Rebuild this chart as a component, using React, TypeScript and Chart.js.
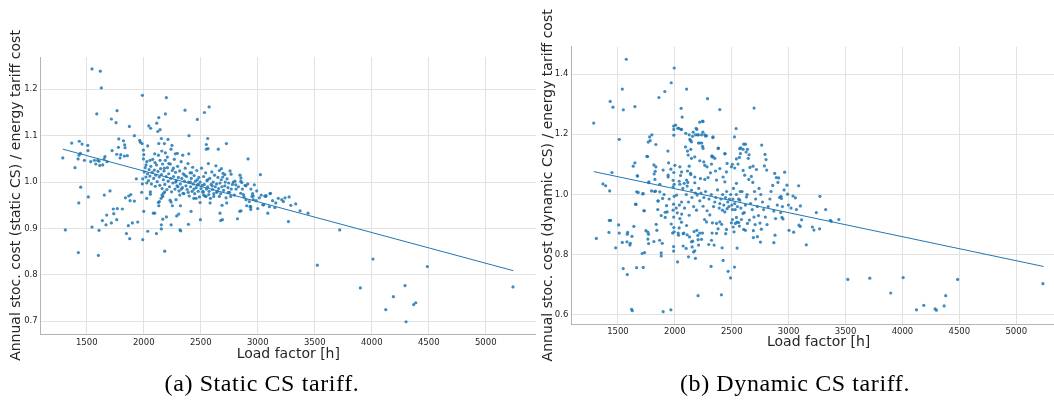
import React, { useEffect, useRef } from "react";
import { Chart, registerables } from "chart.js";

Chart.register(...registerables);

const loadFactorTicks = [1500, 2000, 2500, 3000, 3500, 4000, 4500, 5000];
const staticCostTicks = [0.7, 0.8, 0.9, 1.0, 1.1, 1.2];
const dynamicCostTicks = [0.6, 0.8, 1.0, 1.2, 1.4];

const xTitle = "Load factor [h]";
const staticYTitle = "Annual stoc. cost (static CS) / energy tariff cost";
const dynamicYTitle = "Annual stoc. cost (dynamic CS) / energy tariff cost";
const staticCaption = "(a) Static CS tariff.";
const dynamicCaption = "(b) Dynamic CS tariff.";

const staticFitLine: [number, number][] = [[1290, 1.071], [5242, 0.809]];
const dynamicFitLine: [number, number][] = [[1287, 1.076], [5240, 0.761]];

const staticPoints: [number, number][] = [
  [1290,1.052],[1312,0.897],[1368,1.084],[1397,1.031],[1424,1.050],[1426,0.848],[1430,0.955],[1432,1.058],[1435,1.088],[1444,1.062],
  [1447,0.989],[1459,1.082],[1479,1.047],[1509,1.079],[1511,1.068],[1514,0.968],[1535,1.044],[1546,1.244],[1546,0.903],[1567,1.047],
  [1579,1.039],[1588,1.147],[1596,1.047],[1602,0.842],[1608,0.896],[1608,1.045],[1614,1.036],[1619,1.239],[1628,1.203],[1637,0.917],
  [1640,1.037],[1652,1.050],[1654,0.972],[1660,1.055],[1669,0.908],[1675,0.929],[1678,1.044],[1704,0.981],[1716,0.912],[1716,1.136],
  [1722,1.068],[1733,0.942],[1737,0.932],[1757,1.128],[1763,1.060],[1763,0.919],[1766,1.154],[1768,0.943],[1778,1.075],[1781,1.093],
  [1792,1.052],[1798,1.059],[1812,0.942],[1822,1.089],[1830,1.056],[1833,1.080],[1836,1.074],[1839,0.966],[1848,0.889],[1856,1.057],
  [1865,0.906],[1868,0.970],[1874,1.120],[1877,0.878],[1880,0.960],[1886,0.973],[1900,0.912],[1918,1.100],[1918,0.959],[1935,1.007],
  [1947,0.914],[1965,1.090],[1970,1.086],[1982,0.978],[1985,1.083],[1988,0.996],[1988,1.187],[1991,1.007],[1991,0.876],[1997,1.069],
  [1997,1.050],[2000,1.059],[2000,0.937],[2020,1.037],[2026,0.965],[2026,0.998],[2035,0.894],[2035,1.078],[2044,1.121],[2055,1.047],
  [2058,0.974],[2058,0.979],[2061,1.116],[2084,0.933],[2096,0.933],[2096,1.061],[2099,1.042],[2111,0.889],[2114,1.127],[2123,1.109],
  [2128,0.956],[2132,1.139],[2132,1.083],[2132,0.949],[2137,0.958],[2143,1.113],[2143,1.047],[2152,0.965],[2154,1.094],[2154,0.908],
  [2154,0.899],[2158,1.067],[2160,0.972],[2167,0.920],[2167,0.969],[2173,0.976],[2181,1.083],[2184,0.851],[2184,0.979],[2190,1.147],
  [2190,1.063],[2198,1.182],[2199,0.925],[2207,1.054],[2213,1.092],[2231,0.961],[2239,1.071],[2240,0.957],[2240,0.908],[2248,1.079],
  [2251,0.949],[2277,1.061],[2283,0.962],[2289,0.927],[2295,1.062],[2307,0.931],[2316,0.972],[2318,0.897],[2322,0.949],[2324,0.895],
  [2342,1.058],[2345,0.976],[2362,1.155],[2392,0.909],[2395,1.061],[2397,1.100],[2415,0.937],[2439,0.965],[2459,0.965],[2470,1.135],
  [2494,0.956],[2497,0.919],[2526,0.972],[2532,1.150],[2546,0.969],[2549,1.081],[2549,1.071],[2561,1.094],[2564,1.072],[2570,0.973],
  [2573,1.162],[2582,0.955],[2614,0.969],[2640,0.978],[2654,1.071],[2663,0.969],[2669,0.933],[2675,0.917],[2725,1.083],[2728,0.955],
  [2742,0.978],[2681,1.029],[2696,1.019],[2711,1.016],[2693,1.011],[2757,1.024],[2766,1.017],[2731,1.007],[2786,1.000],[2800,1.002],
  [2844,1.015],[2853,1.009],[2851,1.002],[2860,0.999],[2889,0.993],[2897,0.992],[2912,0.996],[2915,1.050],[2970,0.994],[2991,0.981],
  [2810,0.985],[2807,0.994],[2711,0.992],[2739,0.988],[2768,0.985],[2763,0.969],[2851,0.976],[2874,0.973],[2897,0.962],[2903,0.949],
  [2926,0.958],[2950,0.969],[2961,0.962],[3014,0.966],[3023,1.016],[3053,0.951],[3070,0.969],[3108,0.975],[3102,0.947],[3088,0.933],
  [3211,0.962],[3239,0.966],[3275,0.968],[3333,0.953],[3269,0.915],[3371,0.938],[3441,0.933],[2687,0.950],[2690,0.919],[2822,0.921],
  [2842,0.937],[2853,0.938],[2932,0.947],[3000,0.943],[3044,0.951],[2939,0.947],[2939,0.941],[2960,0.970],[3061,0.970],[3073,0.971],
  [3111,0.976],[3158,0.955],[3225,0.958],[3523,0.821],[3719,0.897],[3900,0.772],[4011,0.834],[4123,0.725],[4190,0.753],[4292,0.777],
  [4301,0.699],[4368,0.736],[4386,0.740],[4488,0.818],[5239,0.774],
  [2004,1.022],[2013,1.031],[2019,1.011],[2027,1.044],[2033,1.018],[2041,1.003],[2047,1.027],[2054,1.013],[2062,1.034],[2067,0.996],
  [2074,1.021],[2079,1.049],[2087,1.008],[2093,1.026],[2101,0.991],[2105,1.015],[2112,1.037],[2118,1.001],[2125,1.023],[2129,1.058],
  [2136,1.011],[2141,0.993],[2148,1.029],[2155,1.016],[2161,0.986],[2165,1.039],[2172,1.005],[2178,1.024],[2185,0.995],[2189,1.047],
  [2196,1.012],[2203,0.984],[2208,1.031],[2214,1.002],[2219,1.018],[2226,0.990],[2233,1.039],[2237,1.008],[2244,0.979],[2250,1.025],
  [2256,0.998],[2262,1.012],[2268,1.049],[2274,0.985],[2279,1.021],[2286,1.003],[2292,0.992],[2297,1.034],[2304,1.010],[2309,0.981],
  [2315,1.024],[2321,0.996],[2328,1.044],[2334,1.008],[2339,0.988],[2346,1.018],[2352,0.975],[2357,1.002],[2364,1.030],[2370,0.992],
  [2375,1.012],[2381,0.984],[2388,1.040],[2393,1.000],[2399,0.970],[2406,1.020],[2411,0.990],[2417,1.008],[2424,0.980],[2429,1.032],
  [2435,0.996],[2442,1.014],[2447,0.975],[2453,1.002],[2460,0.988],[2465,1.025],[2471,0.994],[2478,0.980],[2483,1.010],[2489,0.968],
  [2495,1.000],[2502,0.986],[2507,1.030],[2513,0.993],[2519,0.978],[2525,1.012],[2531,0.995],[2537,0.970],[2543,1.020],[2550,0.985],
  [2555,1.003],[2561,0.990],[2567,1.040],[2573,0.980],[2579,1.008],[2585,0.965],[2591,0.995],[2597,1.022],[2603,0.984],[2609,1.000],
  [2615,0.975],[2621,1.015],[2627,0.990],[2633,1.035],[2639,0.996],[2645,0.980],[2651,1.010],[2657,0.986],[2663,1.025],[2669,0.998],
  [2675,0.975],[2680,1.005],[2686,0.990],[2700,0.982],[2715,1.000],[2722,0.966],[2745,0.998],[2752,0.978],[2778,0.995],[2795,0.972],
  [2830,0.990],[2865,0.985],[2880,0.968],[2940,0.985],[2955,0.975],[2985,0.960],[3030,0.972],[3130,0.960],[3180,0.965],[3290,0.950],
  [3150,0.945],[2280,1.000],[2330,0.985],[2410,1.000],[2440,0.985],[2470,1.005],[2520,0.980],[2360,1.015],[2300,0.990],[2390,0.978],
  [2560,1.005],[2600,0.992],[2220,1.040],[2180,1.030],[2260,1.030],[2480,0.995],[2420,1.020]
];

const dynamicPoints: [number, number][] = [
  [1287,1.237],[1310,0.854],[1368,1.035],[1392,1.029],[1421,0.874],[1424,0.914],[1427,1.012],[1432,1.309],[1435,0.914],[1447,1.073],
  [1456,1.290],[1480,0.823],[1506,0.899],[1511,1.183],[1511,0.872],[1538,1.350],[1538,0.841],[1546,0.754],[1547,1.281],[1573,1.449],
  [1579,0.843],[1582,0.734],[1582,0.868],[1585,0.874],[1605,0.832],[1608,0.838],[1620,0.619],[1626,0.614],[1623,0.861],[1634,1.094],
  [1640,0.894],[1649,1.292],[1649,1.105],[1658,0.967],[1664,0.757],[1669,1.062],[1678,1.007],[1713,0.804],[1717,1.002],[1722,0.758],
  [1728,0.946],[1734,0.807],[1746,0.880],[1754,1.127],[1763,0.875],[1763,0.852],[1766,1.174],[1769,0.868],[1769,0.837],[1769,1.039],
  [1778,1.191],[1783,1.179],[1795,1.012],[1798,1.198],[1816,1.098],[1816,0.844],[1818,1.068],[1822,1.010],[1827,1.077],[1830,1.011],
  [1833,1.166],[1836,0.901],[1842,0.881],[1851,0.978],[1860,1.322],[1866,0.848],[1868,1.009],[1880,0.806],[1880,0.796],[1889,0.838],
  [1897,0.611],[1897,1.081],[1912,1.342],[1915,0.941],[1927,0.963],[1939,1.144],[1941,1.064],[1945,1.105],[1965,0.617],[1968,1.371],
  [1968,0.902],[1985,1.047],[1989,0.968],[1989,0.827],[1989,0.812],[1989,1.227],[1991,1.197],[1991,1.216],[1994,1.420],[1994,0.994],
  [1994,1.034],[1994,0.876],[2024,0.776],[2026,1.220],[2032,0.865],[2038,0.889],[2050,1.063],[2053,1.216],[2055,1.286],[2058,0.908],
  [2064,1.257],[2073,0.829],[2079,0.872],[2082,1.037],[2094,1.158],[2096,1.203],[2099,0.821],[2103,1.350],[2103,0.897],[2114,1.040],
  [2120,0.793],[2126,1.198],[2126,1.094],[2129,0.859],[2137,1.179],[2140,1.150],[2140,1.066],[2146,0.843],[2152,0.826],[2155,1.193],
  [2157,0.845],[2164,0.809],[2181,0.788],[2182,1.198],[2187,1.220],[2193,0.881],[2202,0.864],[2204,0.664],[2207,1.198],[2207,1.171],
  [2208,0.832],[2219,1.240],[2234,1.198],[2234,0.851],[2236,1.171],[2243,1.244],[2243,1.160],[2243,0.872],[2263,1.198],[2269,1.194],
  [2287,1.318],[2298,0.834],[2318,0.761],[2322,0.848],[2325,1.128],[2327,1.125],[2336,1.191],[2345,0.832],[2366,0.871],[2383,1.154],
  [2395,1.282],[2409,0.667],[2415,0.823],[2424,0.781],[2441,1.135],[2468,0.745],[2489,0.723],[2524,0.759],[2538,1.219],[2547,0.822],
  [2570,1.152],[2579,1.155],[2605,1.167],[2626,1.141],[2638,1.150],[2652,1.132],[2687,1.094],[2696,1.287],[2717,1.083],[2763,1.164],
  [2787,1.095],[2792,1.133],[2801,1.116],[2807,1.081],[2877,1.070],[2892,1.056],[2906,1.040],[2912,1.055],[2965,1.074],
  [2985,1.031],[3088,1.029],[2991,1.001],[2932,0.994],[2936,0.987],[3038,0.995],[3059,0.989],[3275,0.994],[2998,0.965],[3021,0.955],
  [3103,0.962],[3068,0.950],[3243,0.940],[3325,0.950],[2941,0.924],[2950,0.919],[3114,0.916],[3091,0.898],[3102,0.894],[3003,0.881],
  [3044,0.875],[3208,0.892],[3222,0.882],[3272,0.886],[3155,0.833],[3366,0.914],[3441,0.917],[3374,0.911],
  [3520,0.718],[3713,0.722],[3897,0.673],[4006,0.724],[4123,0.617],[4187,0.632],[4287,0.620],[4298,0.616],[4366,0.630],[4380,0.664],
  [4485,0.718],[5234,0.704],
  [1991,0.890],[1980,0.872],[2029,0.872],[2073,0.870],[2108,0.866],[2169,0.877],[2175,0.813],[2204,0.850],[2219,0.872],[2327,0.872],
  [2366,0.904],[2380,0.886],[2412,0.901],[2447,0.870],[2453,0.884],[2506,0.917],[2512,0.892],[2520,0.876],[2532,0.904],[2547,0.908],
  [2567,0.895],[2605,0.884],[2620,0.881],[2585,0.917],[2638,0.904],
  [2044,1.034],[2108,1.028],[2146,1.014],[2196,0.998],[2219,0.979],[2248,0.961],[2283,0.946],[2307,0.932],[2351,0.975],[2395,0.970],
  [2418,0.948],[2439,0.942],[2459,0.953],[2506,0.950],[2526,0.970],[2570,0.981],[2599,0.937],[2629,0.992],[2015,0.998],[2059,0.975],
  [1985,0.948],[1932,0.942],[1892,0.987],[1854,0.979],[1722,1.003],[1664,1.009],[1655,0.968],[1731,0.946],[1915,0.924],[2021,0.939],
  [2044,0.920],[2126,0.931],[2190,0.948],[2261,0.917],[2278,0.909],[2330,0.906],[2395,0.909],[2497,0.906],[2541,0.924],[2561,0.907],
  [2006,1.230],[2035,1.220],[2059,1.216],[2161,1.207],[2193,1.216],[2199,1.198],[2248,1.242],[2278,1.195],[2333,1.189],[2246,1.207],
  [2132,1.183],[2146,1.175],[2219,1.171],[2248,1.153],[2111,1.144],[2175,1.125],[2117,1.131],[2146,1.120],[2219,1.112],[2254,1.108],
  [2263,1.097],[2283,1.092],[2322,1.101],[2336,1.125],[2380,1.153],[2351,1.120],[2439,1.136],[2395,1.086],[2459,1.103],[2506,1.100],
  [2526,1.088],[2541,1.118],[2567,1.123],[2555,1.101],[2576,1.136],[2599,1.150],[2620,1.167],[2524,1.191],[2497,1.092],[2453,1.075],
  [2424,1.058],[2357,1.078],[2313,1.072],[2292,1.056],[2263,1.050],[2225,1.053],[2175,1.058],[2138,1.070],[2111,1.078],[2059,1.075],
  [2044,1.092],[2000,1.097],[1991,1.073],[1941,1.058],[1965,1.084],[1833,1.092],[1760,1.126],[1673,1.061],[1772,1.042],[1825,1.050],
  [1868,1.034],[1985,1.025],[2038,1.044],[2103,1.048],[2175,1.039],[2366,1.048],[2439,1.042],[2541,1.037],[2614,1.064],
  [2645,1.120],[2660,1.090],[2672,1.060],[2685,1.040],[2700,1.010],[2710,0.985],[2725,0.960],[2735,0.930],[2748,0.905],[2760,0.885],
  [2665,0.970],[2680,0.950],[2695,0.925],[2705,0.900],[2740,1.020],[2755,1.000],[2770,0.975],[2780,0.950],[2795,0.925],[2810,0.900],
  [2820,0.960],[2835,0.985],[2845,1.010],[2860,1.030],[2870,0.945],[2885,0.920],[2900,0.965],[2920,0.990],[2930,0.940],[2945,0.960],
  [2960,1.015],[2650,1.050],[2635,1.000],[2620,0.965],[2610,0.940],[2590,1.010],[2600,1.080],[2655,0.915],[2690,0.880],[2725,0.860],
  [2752,0.842],[2870,0.840],[2880,0.865],[2690,0.857],
  [2210,1.020],[2230,1.005],[2255,0.990],[2270,1.010],[2300,0.985],[2320,1.000],[2340,0.960],[2360,0.990],[2375,1.015],[2390,0.955],
  [2405,0.985],[2420,1.000],[2430,0.965],[2445,0.990],[2455,1.010],[2465,0.975],[2475,0.960],[2480,0.985],[2490,1.000],[2500,0.965],
  [2510,0.985],[2515,1.020],[2530,0.950],[2540,1.000],[2550,0.960],[2560,0.985],[2575,1.010],[2580,0.955],[2150,0.990],[2165,0.960],
  [2180,1.005],[2120,0.975],[2100,1.000],[2085,0.955],[2070,1.020],[2060,0.935],[2040,0.965],[2012,0.955],[1990,0.925],[1950,0.985],
  [1905,1.000],[1880,0.930],[1850,0.950]
];

type Panel = {
  points: [number, number][];
  fit: [number, number][];
  yTicks: number[];
  yTitle: string;
  xMin: number; xMax: number; yMin: number; yMax: number;
  left: number; width: number; height: number;
  plotLeft: number; plotRight: number; plotTop: number; plotBottom: number;
  yTitlePad: number; xTitlePad: number; xTickPad: number;
};

const panels: Panel[] = [
  {
    points: staticPoints, fit: staticFitLine, yTicks: staticCostTicks, yTitle: staticYTitle,
    xMin: 1096, xMax: 5440, yMin: 0.6726, yMax: 1.2696,
    left: 0, width: 545, height: 370,
    plotLeft: 40.7, plotRight: 535.9, plotTop: 57, plotBottom: 334,
    yTitlePad: 8.1, xTitlePad: 7.5, xTickPad: 3.4,
  },
  {
    points: dynamicPoints, fit: dynamicFitLine, yTicks: dynamicCostTicks, yTitle: dynamicYTitle,
    xMin: 1090, xMax: 5437, yMin: 0.570, yMax: 1.4907,
    left: 530, width: 540, height: 370,
    plotLeft: 41.3, plotRight: 536.8, plotTop: 46.7, plotBottom: 324,
    yTitlePad: 9.7, xTitlePad: 19.1, xTickPad: 2.5,
  },
];

const TEXT = "#262626";
const GRID = "#e2e2e2";
const SPINE = "#b3b3b3";
const BLUE = "#1f77b4";

function ScatterPanel({ p }: { p: Panel }) {
  const ref = useRef<HTMLCanvasElement | null>(null);
  useEffect(() => {
    if (!ref.current) return;
    const chart = new Chart(ref.current, {
      type: "scatter",
      data: {
        datasets: [
          {
            type: "line",
            data: p.fit.map(([x, y]) => ({ x, y })),
            borderColor: BLUE,
            borderWidth: 1,
            pointRadius: 0,
            fill: false,
          } as any,
          {
            data: p.points.map(([x, y]) => ({ x, y })),
            backgroundColor: "rgba(31,119,180,0.85)",
            borderWidth: 0,
            pointRadius: 1.6,
          },
        ],
      },
      options: {
        animation: false,
        responsive: false,
        devicePixelRatio: 1,
        layout: {
          padding: { left: 0, top: p.plotTop, right: p.width - p.plotRight, bottom: 0 },
        },
        plugins: { legend: { display: false }, tooltip: { enabled: false } },
        scales: {
          x: {
            type: "linear",
            min: p.xMin,
            max: p.xMax,
            afterBuildTicks: (s: any) => { s.ticks = loadFactorTicks.map((v) => ({ value: v })); },
            afterFit: (s: any) => { s.height = p.height - p.plotBottom; },
            grid: { color: GRID, drawTicks: false },
            border: { display: true, color: SPINE, width: 1 },
            ticks: {
              color: TEXT, padding: p.xTickPad, maxRotation: 0, autoSkip: false,
              font: { family: "DejaVu Sans", size: 8.5 },
              callback: (v: any) => String(v),
            },
            title: {
              display: true, text: xTitle, color: TEXT,
              font: { family: "DejaVu Sans", size: 14 },
              padding: { top: 0, bottom: p.xTitlePad },
            },
          },
          y: {
            type: "linear",
            min: p.yMin,
            max: p.yMax,
            afterBuildTicks: (s: any) => { s.ticks = p.yTicks.map((v) => ({ value: v })); },
            afterFit: (s: any) => { s.width = p.plotLeft; },
            grid: { color: GRID, drawTicks: false },
            border: { display: true, color: SPINE, width: 1 },
            ticks: {
              color: TEXT, padding: 3, autoSkip: false,
              font: { family: "DejaVu Sans", size: 8.5 },
              callback: (v: any) => Number(v).toFixed(1),
            },
            title: {
              display: true, text: p.yTitle, color: TEXT,
              font: { family: "DejaVu Sans", size: 14 },
              padding: { top: p.yTitlePad, bottom: 0 },
            },
          },
        },
      } as any,
    });
    return () => chart.destroy();
  }, [p]);
  return (
    <canvas
      ref={ref}
      width={p.width}
      height={p.height}
      style={{ position: "absolute", left: p.left, top: 0, width: p.width, height: p.height }}
    />
  );
}

const captionStyle: React.CSSProperties = {
  position: "absolute",
  top: 368,
  fontFamily: "'Liberation Serif', serif",
  fontSize: 24,
  letterSpacing: 0.6,
  color: "#000",
  whiteSpace: "nowrap",
  transform: "translateX(-50%)",
  lineHeight: "30px",
};

export default function App() {
  return (
    <div
      style={{
        position: "absolute", left: 0, top: 0, width: 1054, height: 405,
        overflow: "hidden", background: "#fff",
      }}
    >
      {panels.map((p, i) => (
        <ScatterPanel key={i} p={p} />
      ))}
      <div style={{ ...captionStyle, left: 262 }}>{staticCaption}</div>
      <div style={{ ...captionStyle, left: 795 }}>{dynamicCaption}</div>
    </div>
  );
}
